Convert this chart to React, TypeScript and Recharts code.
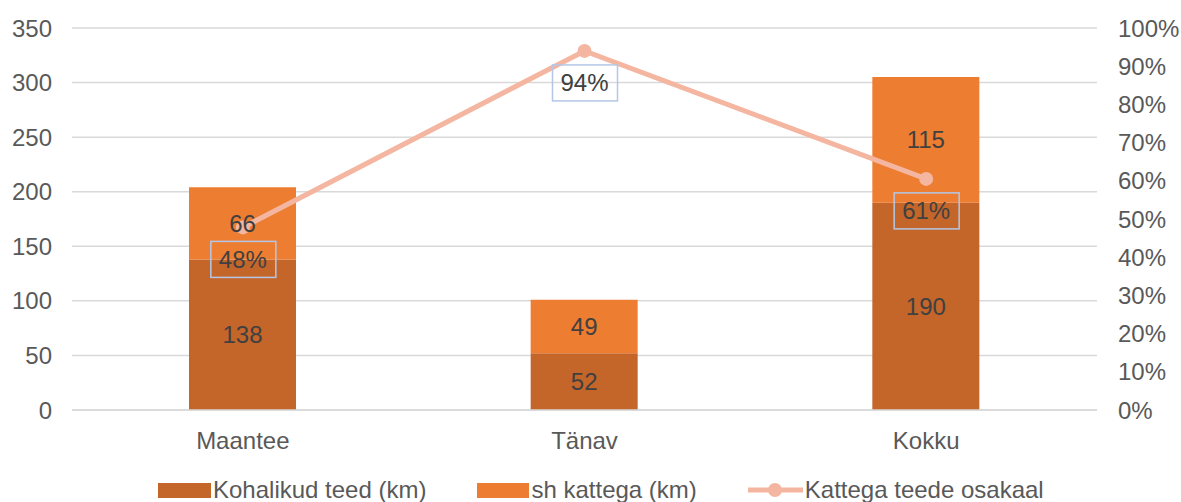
import {
  ComposedChart,
  Bar,
  Line,
  XAxis,
  YAxis,
  CartesianGrid,
  Legend,
  LabelList,
} from 'recharts'

const categories = ['Maantee', 'Tänav', 'Kokku']
const kohalikudTeed = [138, 52, 190]
const shKattega = [66, 49, 115]
const kattegaOsakaal = [0.478, 0.94, 0.605]

const leftTicks = [0, 50, 100, 150, 200, 250, 300, 350]
const rightTicks = [0, 0.1, 0.2, 0.3, 0.4, 0.5, 0.6, 0.7, 0.8, 0.9, 1]

const FONT = "'Liberation Sans', Arial, sans-serif"
const DARK = '#C4652A'
const LIGHT = '#ED7D31'
const LINE = '#F4B6A0'
const AXIS_TEXT = '#595959'
const LABEL_TEXT = '#404040'

const data = categories.map((name, i) => ({
  name,
  kohalikud: kohalikudTeed[i],
  kattega: shKattega[i],
  osakaal: kattegaOsakaal[i],
}))

const pct = (v: number) => `${Math.round(v * 100)}%`

function ShareLabel(props: any) {
  const { x, y, value } = props
  if (x == null || y == null) return null
  return (
    <g>
      <rect
        x={x - 32}
        y={y + 14}
        width={65}
        height={36}
        fill="none"
        stroke="#B4C7E7"
        strokeWidth={1.5}
      />
      <text
        x={x}
        y={y + 32}
        textAnchor="middle"
        dominantBaseline="central"
        fill={LABEL_TEXT}
        fontSize={24}
        fontFamily={FONT}
      >
        {pct(value)}
      </text>
    </g>
  )
}

function LegendBox() {
  const item = { display: 'flex', alignItems: 'center', gap: 2 }
  const txt = { fontSize: 24, color: AXIS_TEXT, fontFamily: FONT, lineHeight: '28px' }
  return (
    <div style={{ height: 42, position: 'relative' }}>
      <div
        style={{
          position: 'absolute',
          top: 16,
          left: 158,
          height: 28,
          display: 'flex',
          alignItems: 'center',
          gap: 51,
        }}
      >
        <div style={item}>
          <div style={{ width: 53, height: 15, background: DARK }} />
          <span style={txt}>Kohalikud teed (km)</span>
        </div>
        <div style={item}>
          <div style={{ width: 52, height: 15, background: LIGHT }} />
          <span style={txt}>sh kattega (km)</span>
        </div>
        <div style={item}>
          <svg width={55} height={16}>
            <line x1={0} y1={8} x2={55} y2={8} stroke={LINE} strokeWidth={5} />
            <circle cx={27} cy={8} r={7} fill={LINE} />
          </svg>
          <span style={txt}>Kattega teede osakaal</span>
        </div>
      </div>
    </div>
  )
}

export default function App() {
  return (
    <div style={{ position: 'absolute', left: 0, top: 0, fontFamily: FONT, background: '#fff' }}>
      <ComposedChart
        width={1181}
        height={502}
        data={data}
        margin={{ top: 28, right: 0, bottom: 0, left: 0 }}
      >
        <CartesianGrid
          yAxisId="left"
          vertical={false}
          stroke="#D9D9D9"
          strokeWidth={1.5}
        />
        <XAxis
          dataKey="name"
          height={50}
          tickSize={0}
          tickMargin={22}
          axisLine={{ stroke: '#D9D9D9', strokeWidth: 1.5 }}
          tickLine={false}
          tick={{ fontSize: 24, fill: AXIS_TEXT, fontFamily: FONT }}
        />
        <YAxis
          yAxisId="left"
          width={72}
          domain={[0, 350]}
          ticks={leftTicks}
          tickSize={0}
          tickMargin={20}
          axisLine={false}
          tickLine={false}
          tick={{ fontSize: 24, fill: AXIS_TEXT, fontFamily: FONT }}
        />
        <YAxis
          yAxisId="right"
          orientation="right"
          width={84}
          domain={[0, 1]}
          ticks={rightTicks}
          tickFormatter={pct}
          tickSize={0}
          tickMargin={21}
          axisLine={false}
          tickLine={false}
          tick={{ fontSize: 24, fill: AXIS_TEXT, fontFamily: FONT, textAnchor: 'start' }}
        />
        <Legend verticalAlign="bottom" height={42} content={() => <LegendBox />} />
        <Bar
          yAxisId="left"
          dataKey="kohalikud"
          stackId="a"
          fill={DARK}
          barSize={107}
          isAnimationActive={false}
        >
          <LabelList
            dataKey="kohalikud"
            position="center"
            fill={LABEL_TEXT}
            fontSize={24}
            fontFamily={FONT}
          />
        </Bar>
        <Bar
          yAxisId="left"
          dataKey="kattega"
          stackId="a"
          fill={LIGHT}
          barSize={107}
          isAnimationActive={false}
        >
          <LabelList
            dataKey="kattega"
            position="center"
            fill={LABEL_TEXT}
            fontSize={24}
            fontFamily={FONT}
          />
        </Bar>
        <Line
          yAxisId="right"
          dataKey="osakaal"
          stroke={LINE}
          strokeWidth={5}
          dot={{ r: 7, fill: LINE, stroke: LINE, strokeWidth: 0 }}
          activeDot={false}
          isAnimationActive={false}
        >
          <LabelList dataKey="osakaal" content={<ShareLabel />} />
        </Line>
      </ComposedChart>
    </div>
  )
}
